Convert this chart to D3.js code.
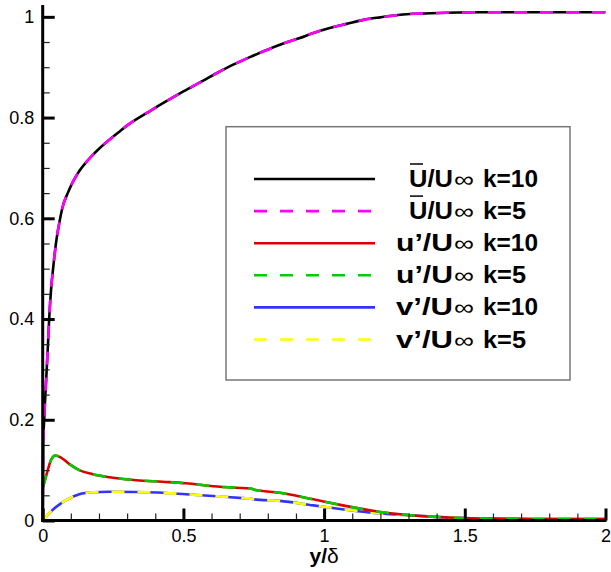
<!DOCTYPE html>
<html><head><meta charset="utf-8">
<script src="https://cdn.jsdelivr.net/npm/d3@7"></script>
<style>body{margin:0;background:#fff}svg{display:block}</style>
</head><body>
<svg id="c" width="611" height="572"></svg>
<script>
// ---- data ----
const xTicksMajor = [0, 0.5, 1, 1.5, 2];
const xTickLabels = ["0", "0.5", "1", "1.5", "2"];
const yTicksMajor = [0, 0.2, 0.4, 0.6, 0.8, 1];
const yTickLabels = ["0", "0.2", "0.4", "0.6", "0.8", "1"];

const U_k10_x = [0, 0.002, 0.0057, 0.0117, 0.0178, 0.0235, 0.0295, 0.0377, 0.0473, 0.059, 0.071, 0.089, 0.105, 0.118, 0.1325, 0.154, 0.175, 0.204, 0.239, 0.27, 0.304, 0.381, 0.441, 0.5, 0.559, 0.618, 0.677, 0.736, 0.796, 0.855, 0.914, 0.962, 1.02, 1.08, 1.14, 1.199, 1.27, 1.317, 1.436, 1.554, 1.75, 2.0];
const U_k10_y = [0, 0.15, 0.206, 0.273, 0.339, 0.405, 0.457, 0.504, 0.551, 0.591, 0.623, 0.650, 0.670, 0.683, 0.696, 0.711, 0.724, 0.740, 0.757, 0.771, 0.786, 0.813, 0.833, 0.852, 0.870, 0.888, 0.905, 0.920, 0.934, 0.947, 0.958, 0.968, 0.978, 0.986, 0.994, 0.999, 1.004, 1.006, 1.008, 1.009, 1.009, 1.009];
const U_k5_x = U_k10_x.slice();
const U_k5_y = [0, 0.15, 0.206, 0.273, 0.339, 0.405, 0.457, 0.504, 0.551, 0.591, 0.623, 0.650, 0.670, 0.683, 0.696, 0.711, 0.724, 0.740, 0.757, 0.771, 0.786, 0.813, 0.833, 0.852, 0.870, 0.888, 0.905, 0.920, 0.934, 0.947, 0.958, 0.968, 0.978, 0.986, 0.994, 0.999, 1.004, 1.006, 1.008, 1.009, 1.009, 1.009];

const up_k10_x = [0, 0.006, 0.018, 0.0295, 0.045, 0.065, 0.095, 0.130, 0.178, 0.237, 0.332, 0.426, 0.509, 0.606, 0.725, 0.74, 0.752, 0.843, 0.962, 1.057, 1.2, 1.317, 1.436, 1.55, 1.75, 2.0];
const up_k10_y = [0.065, 0.076, 0.100, 0.120, 0.129, 0.125, 0.112, 0.100, 0.092, 0.086, 0.080, 0.077, 0.074, 0.068, 0.064, 0.0635, 0.061, 0.055, 0.042, 0.031, 0.017, 0.010, 0.006, 0.004, 0.003, 0.003];
const up_k5_x = up_k10_x.slice();
const up_k5_y = [0.065, 0.076, 0.100, 0.120, 0.129, 0.125, 0.112, 0.100, 0.092, 0.086, 0.080, 0.077, 0.074, 0.068, 0.064, 0.0635, 0.061, 0.055, 0.042, 0.031, 0.017, 0.010, 0.006, 0.004, 0.003, 0.003];

const vp_k10_x = [0, 0.006, 0.035, 0.065, 0.095, 0.130, 0.178, 0.237, 0.332, 0.426, 0.509, 0.606, 0.725, 0.74, 0.752, 0.843, 0.962, 1.057, 1.2, 1.317, 1.436, 1.55, 1.75, 2.0];
const vp_k10_y = [0, 0.004, 0.021, 0.034, 0.044, 0.052, 0.056, 0.057, 0.0565, 0.055, 0.052, 0.0486, 0.044, 0.0435, 0.042, 0.039, 0.030, 0.023, 0.014, 0.010, 0.006, 0.004, 0.003, 0.003];
const vp_k5_x = vp_k10_x.slice();
const vp_k5_y = [0, 0.004, 0.021, 0.034, 0.044, 0.052, 0.056, 0.057, 0.0565, 0.055, 0.052, 0.0486, 0.044, 0.0435, 0.042, 0.039, 0.030, 0.023, 0.014, 0.010, 0.006, 0.004, 0.003, 0.003];

const seriesNames = ["U/U∞ k=10", "U/U∞ k=5", "u’/U∞ k=10", "u’/U∞ k=5", "v’/U∞ k=10", "v’/U∞ k=5"];

// ---- drawing ----
const svg = d3.select("#c");
const x = d3.scaleLinear().domain([0, 2]).range([42.7, 605.5]);
const y = d3.scaleLinear().domain([0, 1.0235]).range([520.5, 5]);

const series = [
  {xs: U_k10_x, ys: U_k10_y, color: "#000000", dash: null, name: seriesNames[0], over: true},
  {xs: U_k5_x, ys: U_k5_y, color: "#ff00ff", dash: "13,13", name: seriesNames[1], over: true},
  {xs: up_k10_x, ys: up_k10_y, color: "#dd0000", dash: null, name: seriesNames[2], over: false},
  {xs: up_k5_x, ys: up_k5_y, color: "#00cc00", dash: "13,13", name: seriesNames[3], over: false},
  {xs: vp_k10_x, ys: vp_k10_y, color: "#3333ff", dash: null, name: seriesNames[4], over: false},
  {xs: vp_k5_x, ys: vp_k5_y, color: "#ffff00", dash: "13,13", name: seriesNames[5], over: false}
];

const line = d3.line().x(d => x(d[0])).y(d => y(d[1])).curve(d3.curveMonotoneX);
const order = [4, 5, 2, 3, 0, 1];
order.forEach(i => {
  const s = series[i];
  svg.append("path")
    .attr("d", line(s.xs.map((v, j) => [v, s.ys[j]])))
    .attr("fill", "none").attr("stroke", s.color).attr("stroke-width", 2.6)
    .attr("stroke-dasharray", s.dash);
});

// axes
const font = "'Liberation Sans', Arial, Helvetica, sans-serif";
const xMinor = d3.range(0, 2.0001, 0.1).map(v => +v.toFixed(2));
const yMinor = d3.range(0, 1.0001, 0.05).map(v => +v.toFixed(3));

const xAxis = d3.axisBottom(x).tickValues(xMinor).tickSize(-7).tickFormat("");
const gxm = svg.append("g").attr("transform", `translate(0,${y(0)})`).call(xAxis);
gxm.select(".domain").remove();
gxm.selectAll(".tick line").attr("stroke", "#222").attr("stroke-width", 1.2);

const xAxisMaj = d3.axisBottom(x).tickValues(xTicksMajor).tickSize(-12).tickPadding(9)
  .tickFormat((d, i) => xTickLabels[i]);
const gx = svg.append("g").attr("transform", `translate(0,${y(0)})`).call(xAxisMaj);
gx.select(".domain").remove();
gx.selectAll(".tick line").attr("stroke", "#000").attr("stroke-width", 3);
gx.selectAll(".tick text").attr("font-family", font).attr("font-size", 18).attr("fill", "#000");

const yAxis = d3.axisLeft(y).tickValues(yMinor).tickSize(-7).tickFormat("");
const gym = svg.append("g").attr("transform", `translate(${x(0)},0)`).call(yAxis);
gym.select(".domain").remove();
gym.selectAll(".tick line").attr("stroke", "#222").attr("stroke-width", 1.2);

const yAxisMaj = d3.axisLeft(y).tickValues(yTicksMajor).tickSize(-12).tickPadding(8.5)
  .tickFormat((d, i) => yTickLabels[i]);
const gy = svg.append("g").attr("transform", `translate(${x(0)},0)`).call(yAxisMaj);
gy.select(".domain").remove();
gy.selectAll(".tick line").attr("stroke", "#000").attr("stroke-width", 3);
gy.selectAll(".tick text").attr("font-family", font).attr("font-size", 18).attr("fill", "#000");

// axis lines
svg.append("line").attr("x1", x(0)).attr("x2", x(0)).attr("y1", y(1.0235)).attr("y2", y(0) + 1.5)
  .attr("stroke", "#000").attr("stroke-width", 3);
svg.append("line").attr("x1", x(0) - 1.5).attr("x2", x(2) + 1).attr("y1", y(0)).attr("y2", y(0))
  .attr("stroke", "#000").attr("stroke-width", 3);

// x label
const xl = svg.append("text").attr("x", x(1)).attr("y", 563).attr("text-anchor", "middle")
  .attr("font-family", font).attr("font-size", 21).attr("font-weight", "bold").attr("fill", "#000");
xl.append("tspan").text("y/");
xl.append("tspan").attr("font-weight", "normal").text("δ");

// legend
const lg = svg.append("g");
lg.append("rect").attr("x", 226).attr("y", 126.7).attr("width", 344).attr("height", 253.3)
  .attr("fill", "#fff").attr("stroke", "#777").attr("stroke-width", 1.5);
series.forEach((s, i) => {
  const ly = 179 + i * 32.1;
  lg.append("line").attr("x1", 254).attr("x2", 375).attr("y1", ly).attr("y2", ly)
    .attr("stroke", s.color).attr("stroke-width", 2.6).attr("stroke-dasharray", s.dash);
  const tx = s.over ? 409 : 396;
  const parts = s.name.split("∞");
  const tail = parts[1].trim();
  const by = ly + 8;
  lg.append("text").attr("x", tx).attr("y", by).attr("font-family", font)
    .attr("font-size", 23).attr("font-weight", "bold").attr("fill", "#000")
    .attr("textLength", 453 - tx).attr("lengthAdjust", "spacingAndGlyphs").text(parts[0]);
  lg.append("text").attr("x", 454).attr("y", by).attr("font-family", font)
    .attr("font-size", 22).attr("font-weight", "normal").attr("fill", "#000")
    .attr("textLength", 20).attr("lengthAdjust", "spacingAndGlyphs").text("∞");
  lg.append("text").attr("x", 483).attr("y", by).attr("font-family", font)
    .attr("font-size", 23).attr("font-weight", "bold").attr("fill", "#000")
    .attr("textLength", tail.length > 3 ? 55 : 43).attr("lengthAdjust", "spacingAndGlyphs").text(tail);
  if (s.over) {
    lg.append("line").attr("x1", tx + 1).attr("x2", tx + 14).attr("y1", ly - 15).attr("y2", ly - 15)
      .attr("stroke", "#000").attr("stroke-width", 1.5);
  }
});
</script>
</body></html>
